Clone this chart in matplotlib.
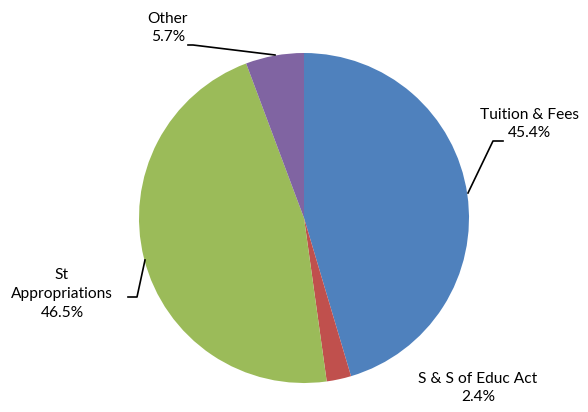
import matplotlib
matplotlib.use("Agg")
import matplotlib.pyplot as plt

categories = ["Tuition & Fees", "S & S of Educ Act", "St Appropriations", "Other"]
values = [45.4, 2.4, 46.5, 5.7]
label_texts = ["Tuition & Fees\n45.4%", "S & S of Educ Act\n2.4%", "St\nAppropriations\n46.5%", "Other\n5.7%"]
colors = ["#4F81BD", "#C0504D", "#9BBB59", "#8064A2"]

W, H = 588, 412
fig = plt.figure(figsize=(W / 100, H / 100), dpi=100)
ax = fig.add_axes([0, 0, 1, 1])

cx, cy, r = 304, 218, 165
wedges, _ = ax.pie(values, colors=colors, startangle=-90, counterclock=True,
                   center=(cx, cy), radius=r, frame=True,
                   wedgeprops=dict(linewidth=0))
ax.set_xlim(0, W)
ax.set_ylim(H, 0)
ax.set_aspect("equal")
ax.axis("off")

font = dict(family=["Lato", "DejaVu Sans"], fontsize=11.2, color="#000000",
            ha="center", va="center", linespacing=1.45)
pos = [(529, 124), (478, 388), (62, 294), (168, 28)]
for (x, y), t in zip(pos, label_texts):
    ax.text(x, y, t, **font)

lines = [
    [(503, 141), (493, 141), (468, 193)],
    [],
    [(128, 297), (137, 297), (145, 260)],
    [(188, 45), (193, 45), (275, 55)],
]
for ln in lines:
    if ln:
        xs, ys = zip(*ln)
        ax.plot(xs, ys, color="black", lw=1.2)

fig.savefig("out.png", dpi=100)
